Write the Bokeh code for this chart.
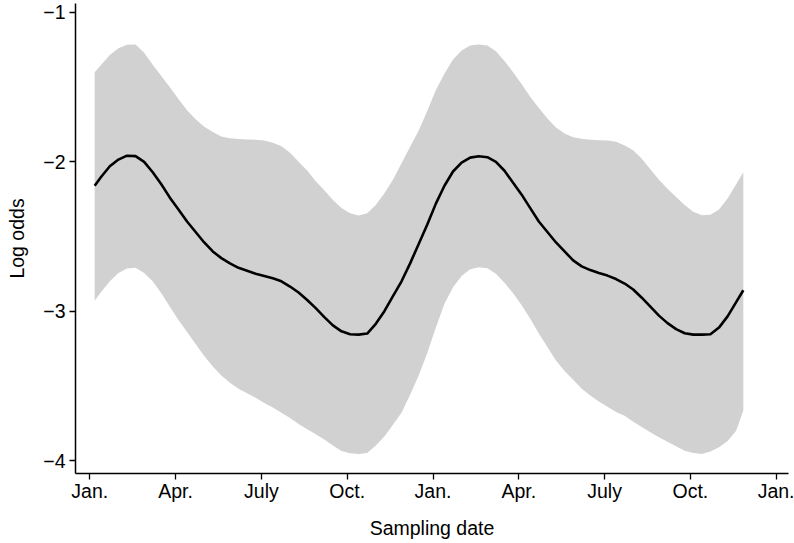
from bokeh.plotting import figure
from bokeh.models import Range1d, FixedTicker
from bokeh.embed import file_html
from bokeh.resources import INLINE

# Sampling date in months since the first January
months = [0.17, 0.4, 0.7, 1.0, 1.3, 1.6, 1.9, 2.2, 2.5, 2.8,
          3.1, 3.4, 3.7, 4.0, 4.3, 4.6, 4.9, 5.2, 5.5, 5.8,
          6.1, 6.4, 6.7, 7.0, 7.3, 7.6, 7.9, 8.2, 8.5, 8.8,
          9.1, 9.4, 9.7, 10.0, 10.3, 10.6, 10.9, 11.2, 11.5, 11.8,
          12.1, 12.4, 12.7, 13.0, 13.3, 13.6, 13.9, 14.2, 14.5, 14.8,
          15.1, 15.4, 15.7, 16.0, 16.3, 16.6, 16.9, 17.2, 17.5, 17.8,
          18.1, 18.4, 18.7, 19.0, 19.3, 19.6, 19.9, 20.2, 20.5, 20.8,
          21.1, 21.4, 21.7, 22.0, 22.3, 22.6, 22.85]
mean_log_odds = [-2.16, -2.10, -2.03, -1.985, -1.959, -1.962, -2.00, -2.07, -2.15, -2.24,
                 -2.32, -2.40, -2.47, -2.54, -2.60, -2.645, -2.68, -2.71, -2.73, -2.75,
                 -2.765, -2.78, -2.80, -2.835, -2.875, -2.925, -2.98, -3.04, -3.095, -3.135,
                 -3.155, -3.157, -3.15, -3.085, -3.00, -2.90, -2.80, -2.68, -2.55, -2.42,
                 -2.28, -2.16, -2.065, -2.005, -1.972, -1.963, -1.969, -2.00, -2.06, -2.14,
                 -2.22, -2.31, -2.40, -2.47, -2.54, -2.60, -2.66, -2.70, -2.725, -2.745,
                 -2.762, -2.785, -2.815, -2.855, -2.91, -2.97, -3.03, -3.08, -3.12, -3.148,
                 -3.157, -3.157, -3.155, -3.11, -3.035, -2.94, -2.86]
upper_log_odds = [-1.40, -1.35, -1.285, -1.24, -1.216, -1.215, -1.27, -1.35, -1.425, -1.50,
                  -1.58, -1.655, -1.715, -1.765, -1.80, -1.83, -1.843, -1.848, -1.85, -1.852,
                  -1.858, -1.872, -1.895, -1.94, -2.00, -2.058, -2.13, -2.19, -2.255, -2.31,
                  -2.345, -2.36, -2.345, -2.29, -2.21, -2.12, -2.01, -1.90, -1.79, -1.66,
                  -1.52, -1.41, -1.315, -1.255, -1.222, -1.214, -1.221, -1.26, -1.325, -1.40,
                  -1.48, -1.565, -1.64, -1.71, -1.77, -1.81, -1.835, -1.845, -1.852, -1.855,
                  -1.858, -1.866, -1.89, -1.922, -1.98, -2.05, -2.12, -2.18, -2.235, -2.29,
                  -2.335, -2.358, -2.355, -2.32, -2.245, -2.15, -2.07]
lower_log_odds = [-2.93, -2.87, -2.80, -2.745, -2.715, -2.71, -2.745, -2.80, -2.88, -2.97,
                  -3.06, -3.14, -3.22, -3.30, -3.37, -3.43, -3.48, -3.52, -3.55, -3.58,
                  -3.615, -3.645, -3.68, -3.715, -3.755, -3.79, -3.825, -3.86, -3.90, -3.937,
                  -3.952, -3.957, -3.95, -3.90, -3.84, -3.76, -3.68, -3.56, -3.43, -3.28,
                  -3.11, -2.95, -2.84, -2.765, -2.72, -2.706, -2.712, -2.75, -2.81, -2.88,
                  -2.96, -3.05, -3.15, -3.24, -3.33, -3.40, -3.46, -3.52, -3.565, -3.605,
                  -3.64, -3.675, -3.70, -3.74, -3.775, -3.81, -3.845, -3.875, -3.905, -3.935,
                  -3.95, -3.957, -3.94, -3.912, -3.87, -3.80, -3.666]

x_ticks = [0, 3, 6, 9, 12, 15, 18, 21, 24]
x_tick_labels = ["Jan.", "Apr.", "July", "Oct.", "Jan.", "Apr.", "July", "Oct.", "Jan."]
y_ticks = [-4, -3, -2, -1]
y_tick_labels = ["\u22124", "\u22123", "\u22122", "\u22121"]
x_title = "Sampling date"
y_title = "Log odds"

FONT = "Liberation Sans"
FS = "19.5px"

p = figure(width=794, height=543, output_backend="svg", toolbar_location=None,
           x_range=Range1d(-0.5, 24.43), y_range=Range1d(-4.087, -0.94),
           min_border_left=75, min_border_right=6, min_border_top=3,
           min_border_bottom=70)
p.outline_line_color = None
p.grid.visible = False
p.background_fill_color = "white"
p.border_fill_color = "white"

p.varea(x=months, y1=lower_log_odds, y2=upper_log_odds, fill_color="#d1d1d1",
        fill_alpha=1.0)
p.line(x=months, y=mean_log_odds, line_color="black", line_width=2.6,
       line_join="round")

p.xaxis.ticker = FixedTicker(ticks=x_ticks)
p.xaxis.major_label_overrides = {t: l for t, l in zip(x_ticks, x_tick_labels)}
p.yaxis.ticker = FixedTicker(ticks=y_ticks)
p.yaxis.major_label_overrides = {t: l for t, l in zip(y_ticks, y_tick_labels)}

for ax in (p.xaxis[0], p.yaxis[0]):
    ax.axis_line_color = "black"
    ax.axis_line_width = 1.5
    ax.major_tick_line_color = "black"
    ax.major_tick_line_width = 1.3
    ax.major_tick_out = 6
    ax.major_tick_in = 0
    ax.minor_tick_line_color = None
    ax.major_label_text_font = FONT
    ax.major_label_text_font_size = FS
    ax.major_label_text_color = "black"
    ax.axis_label_text_font = FONT
    ax.axis_label_text_font_size = FS
    ax.axis_label_text_font_style = "normal"
    ax.axis_label_text_color = "black"

p.xaxis.axis_label = x_title
p.xaxis.major_label_standoff = 0
p.xaxis.axis_label_standoff = 12
p.yaxis.axis_label = y_title
p.yaxis.major_label_standoff = 4
p.yaxis.axis_label_standoff = 12

open("out.html", "w").write(file_html(p, INLINE))
